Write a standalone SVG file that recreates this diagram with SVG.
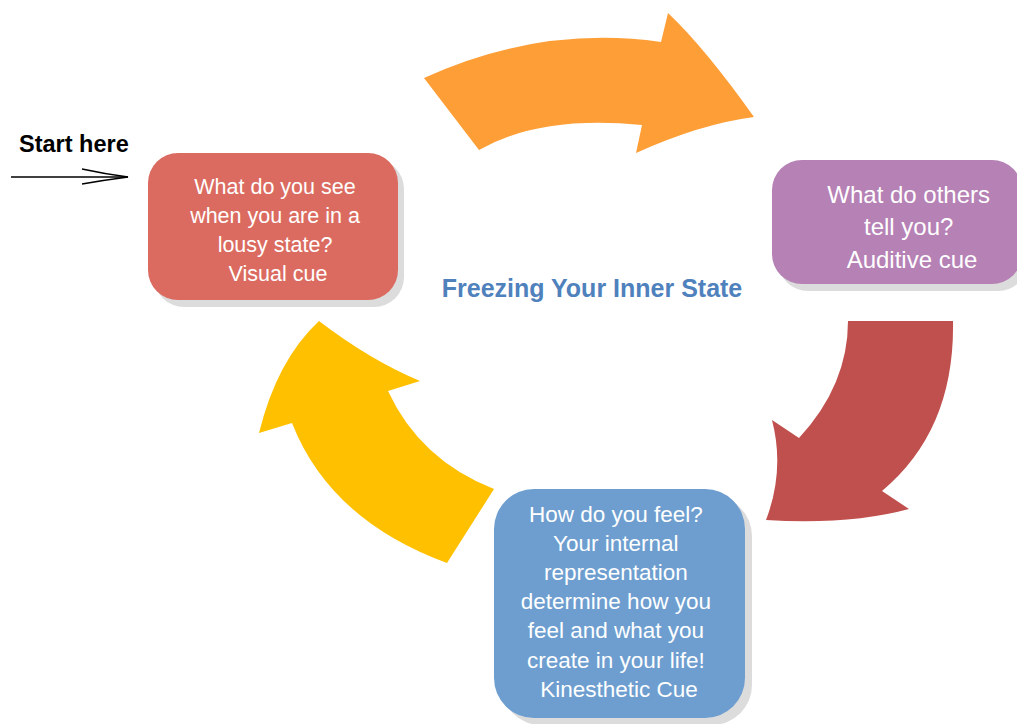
<svg xmlns="http://www.w3.org/2000/svg" width="1017" height="724" viewBox="0 0 1017 724">
<style>
.shadow{fill:#dcdcdc}
.lbl{font-family:"Liberation Sans",Arial,sans-serif;fill:#ffffff;text-anchor:middle}
.title{font-family:"Liberation Sans",Arial,sans-serif;font-weight:bold;fill:#4f81bd;font-size:25px;text-anchor:middle}
.start{font-family:"Liberation Sans",Arial,sans-serif;font-weight:bold;fill:#000;font-size:23.5px}
</style>
<rect width="1017" height="724" fill="#ffffff"/>
<g id="connectors">
  <path id="arrow-orange" fill="#fe9e36" d="M424,78 Q540,25 661,42 L668,13 Q705,48 754,117 Q700,124 636,153 L642,125 Q540,115 479,150 Z"/>
  <path id="arrow-red" fill="#c0504d" d="M848,321 L953,321 Q955,430 882,491 L909,509 Q850,525 766,520 Q785,470 772,420 L799,438 Q848,385 848,321 Z"/>
  <path id="arrow-yellow" fill="#ffc000" d="M319,321 Q370,360 420,381 L388,391 Q420,460 494,489 L447,563 Q330,520 292,423 L259,433 Q277,360 319,321 Z"/>
  <g id="start-arrow" fill="none" stroke="#000" stroke-width="1.4">
    <line x1="11" y1="177" x2="128" y2="177"/>
    <path d="M82,169 Q105,174 128,177 Q105,180 82,184"/>
  </g>
</g>
<text id="start-label" class="start" x="19" y="152">Start here</text>
<g id="node-visual">
  <rect class="shadow" x="154" y="159" width="250" height="148" rx="30"/>
  <rect x="148" y="153" width="250" height="147" rx="30" fill="#db6b60"/>
  <text class="lbl" font-size="21.5">
    <tspan x="278" y="194">What do you see</tspan>
    <tspan x="278" y="223">when you are in a</tspan>
    <tspan x="278" y="252">lousy state?</tspan>
    <tspan x="278" y="281">Visual cue</tspan>
  </text>
</g>
<g id="node-auditive">
  <rect class="shadow" x="778" y="166" width="250" height="125" rx="30"/>
  <rect x="772" y="160" width="250" height="124" rx="30" fill="#b681b5"/>
  <text class="lbl" font-size="24">
    <tspan x="912" y="203">What do others</tspan>
    <tspan x="912" y="235">tell you?</tspan>
    <tspan x="912" y="268">Auditive cue</tspan>
  </text>
</g>
<text id="title" class="title" x="592" y="297">Freezing Your Inner State</text>
<g id="node-kinesthetic">
  <rect class="shadow" x="501" y="496" width="251" height="229" rx="40"/>
  <rect x="494" y="489" width="251" height="229" rx="40" fill="#6d9ecf"/>
  <text class="lbl" font-size="22.5">
    <tspan x="619" y="522">How do you feel?</tspan>
    <tspan x="619" y="551">Your internal</tspan>
    <tspan x="619" y="580">representation</tspan>
    <tspan x="619" y="609">determine how you</tspan>
    <tspan x="619" y="638">feel and what you</tspan>
    <tspan x="619" y="668">create in your life!</tspan>
    <tspan x="619" y="697">Kinesthetic Cue</tspan>
  </text>
</g>
</svg>
